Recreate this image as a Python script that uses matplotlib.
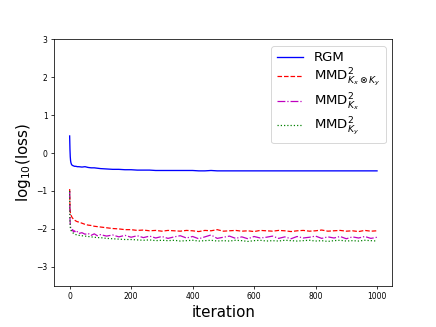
import matplotlib
matplotlib.use('Agg')
import matplotlib.pyplot as plt

iters = [0, 1, 2, 3, 4, 6, 8, 10, 13, 16, 20, 25, 30, 40, 50, 60, 70, 80, 90,
         100, 120, 140, 160, 180, 200, 220, 240, 260, 280, 300, 320, 340, 360,
         380, 400, 420, 440, 460, 480, 500, 520, 540, 560, 580, 600, 620, 640,
         660, 680, 700, 720, 740, 760, 780, 800, 820, 840, 860, 880, 900, 920,
         940, 960, 980, 1000]

rgm = [0.45, 0.10, -0.10, -0.20, -0.25, -0.30, -0.32, -0.33, -0.34, -0.35,
       -0.35, -0.36, -0.36, -0.37, -0.36, -0.38, -0.39, -0.39, -0.40,
       -0.41, -0.42, -0.43, -0.43, -0.44, -0.44, -0.45, -0.45, -0.45, -0.46,
       -0.46, -0.46, -0.46, -0.46, -0.46, -0.46, -0.47, -0.47, -0.46, -0.47,
       -0.47, -0.47, -0.47, -0.47, -0.47, -0.47, -0.47, -0.47, -0.47, -0.47,
       -0.47, -0.47, -0.47, -0.47, -0.47, -0.47, -0.47, -0.47, -0.47, -0.47,
       -0.47, -0.47, -0.47, -0.47, -0.47, -0.47]

mmd_xy = [-0.95, -1.40, -1.55, -1.60, -1.63, -1.67, -1.70, -1.72, -1.75, -1.77,
          -1.79, -1.81, -1.82, -1.85, -1.88, -1.90, -1.91, -1.93, -1.94,
          -1.95, -1.97, -1.99, -2.00, -2.02, -2.02, -2.04, -2.03, -2.05, -2.04,
          -2.06, -2.04, -2.05, -2.06, -2.04, -2.05, -2.07, -2.04, -2.05, -2.02,
          -2.06, -2.05, -2.04, -2.06, -2.05, -2.07, -2.04, -2.05, -2.06, -2.04,
          -2.05, -2.07, -2.05, -2.04, -2.06, -2.05, -2.03, -2.06, -2.05, -2.04,
          -2.06, -2.05, -2.07, -2.04, -2.06, -2.05]

mmd_x = [-1.00, -1.70, -1.88, -1.95, -2.00, -2.03, -2.05, -2.02, -2.08, -2.05,
         -2.10, -2.07, -2.12, -2.10, -2.14, -2.12, -2.17, -2.13, -2.18,
         -2.15, -2.19, -2.16, -2.21, -2.17, -2.22, -2.18, -2.23, -2.19, -2.24,
         -2.20, -2.25, -2.21, -2.18, -2.24, -2.20, -2.26, -2.21, -2.16, -2.25,
         -2.22, -2.19, -2.25, -2.21, -2.26, -2.20, -2.24, -2.22, -2.19, -2.25,
         -2.21, -2.26, -2.20, -2.24, -2.22, -2.19, -2.25, -2.21, -2.24, -2.20,
         -2.26, -2.21, -2.24, -2.20, -2.25, -2.22]

mmd_y = [-1.00, -1.80, -1.95, -2.00, -2.03, -2.06, -2.08, -2.10, -2.12, -2.13,
         -2.15, -2.16, -2.17, -2.18, -2.19, -2.20, -2.21, -2.22, -2.23,
         -2.23, -2.25, -2.26, -2.27, -2.28, -2.28, -2.29, -2.30, -2.29, -2.31,
         -2.30, -2.31, -2.30, -2.32, -2.31, -2.30, -2.32, -2.31, -2.30, -2.32,
         -2.31, -2.32, -2.30, -2.31, -2.33, -2.31, -2.30, -2.32, -2.31, -2.32,
         -2.30, -2.31, -2.32, -2.31, -2.30, -2.32, -2.31, -2.33, -2.31, -2.30,
         -2.32, -2.31, -2.32, -2.30, -2.31, -2.32]

fig = plt.figure(figsize=(6.4, 4.8), dpi=68.125)
ax = fig.add_subplot(111)
fig.subplots_adjust(left=0.1245, right=0.9, top=0.88, bottom=0.126)

ax.plot(iters, rgm, 'b-', lw=1.4, label='RGM')
ax.plot(iters, mmd_xy, 'r--', lw=1.3, label=r'MMD$^2_{K_x\otimes K_y}$')
ax.plot(iters, mmd_x, 'm-.', lw=1.3, label=r'MMD$^2_{K_x}$')
ax.plot(iters, mmd_y, 'g:', lw=1.3, label=r'MMD$^2_{K_y}$')

ax.set_ylim(-3.5, 3)
ax.set_yticks([-3, -2, -1, 0, 1, 2, 3])
ax.set_xticks([0, 200, 400, 600, 800, 1000])
ax.tick_params(labelsize=8)
ax.set_xlabel('iteration', fontsize=16)
ax.set_ylabel(r'log$_{10}$(loss)', fontsize=16)
ax.legend(loc='upper right', fontsize=14, labelspacing=0.2)

fig.savefig('out.png', dpi=68.125)
